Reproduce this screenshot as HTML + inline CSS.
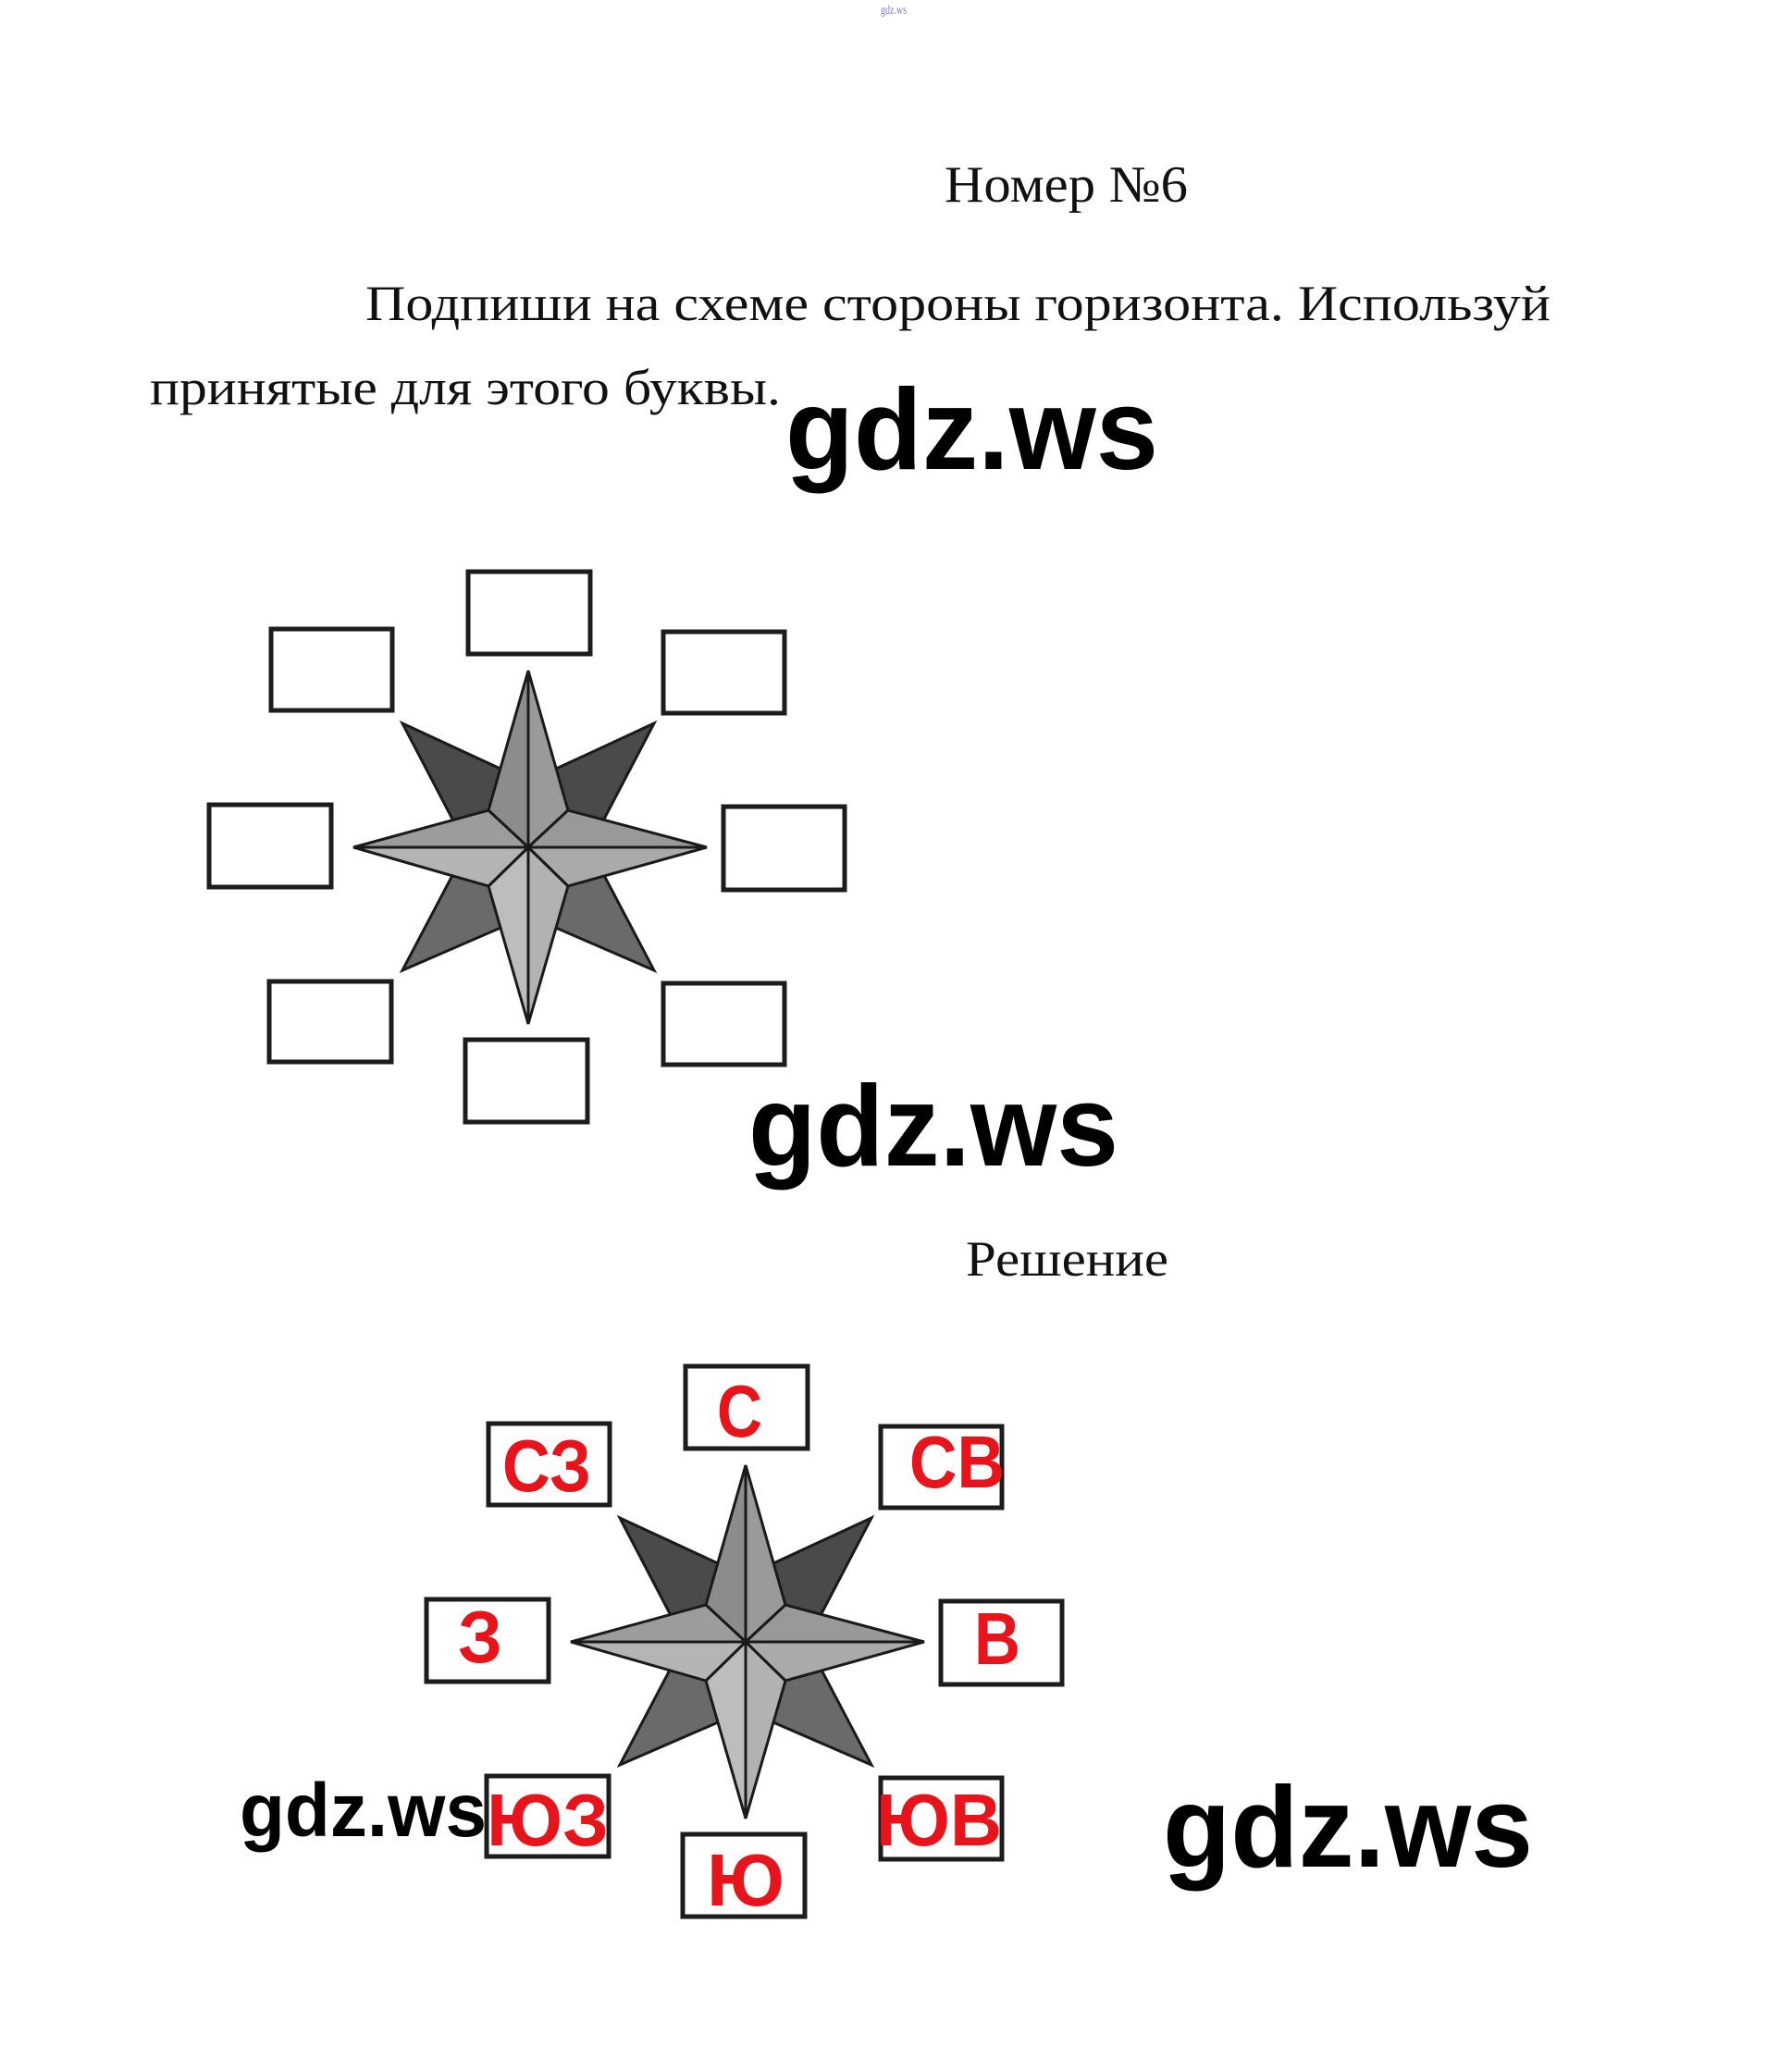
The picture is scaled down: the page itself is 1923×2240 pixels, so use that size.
<!DOCTYPE html>
<html><head><meta charset="utf-8"><style>html,body{margin:0;padding:0;background:#fff}svg{display:block}</style></head>
<body>
<svg width="1923" height="2240" viewBox="0 0 1923 2240" xmlns="http://www.w3.org/2000/svg">
<defs>
<g id="rose">
  <g stroke="#1a1a1a" stroke-width="3" stroke-linejoin="miter">
    <polygon points="435,782 571,845 571,916 505,916" fill="#4a4a4a"/>
    <polygon points="707,782 637,916 571,916 571,845" fill="#4a4a4a"/>
    <polygon points="435,1049 505,916 571,916 571,990" fill="#6a6a6a"/>
    <polygon points="707,1049 571,990 571,916 637,916" fill="#6a6a6a"/>
    <polygon points="571,725 528,876 571,916" fill="#8c8c8c"/>
    <polygon points="571,725 571,916 614,876" fill="#9a9a9a"/>
    <polygon points="764,916 614,876 571,916" fill="#999"/>
    <polygon points="764,916 571,916 614,958" fill="#aaa"/>
    <polygon points="571,1107 614,958 571,916" fill="#b2b2b2"/>
    <polygon points="571,1107 571,916 528,958" fill="#bdbdbd"/>
    <polygon points="382,916 528,958 571,916" fill="#b4b4b4"/>
    <polygon points="382,916 571,916 528,876" fill="#9c9c9c"/>
  </g>
  <g fill="none" stroke="#1c1c1c" stroke-width="5">
    <rect x="293" y="680" width="131" height="88"/>
    <rect x="506" y="618" width="132" height="89"/>
    <rect x="717" y="683" width="131" height="88"/>
    <rect x="226" y="870" width="132" height="89"/>
    <rect x="782" y="872" width="131" height="90"/>
    <rect x="291" y="1061" width="132" height="87"/>
    <rect x="503" y="1124" width="132" height="89"/>
    <rect x="717" y="1063" width="131" height="88"/>
  </g>
</g>
</defs>

<text x="952" y="15" font-family="Liberation Serif, serif" font-size="14" fill="#7a7ad8" textLength="28" lengthAdjust="spacingAndGlyphs">gdz.ws</text>

<g font-family="Liberation Serif, serif" fill="#111">
<text x="1021" y="218" font-size="56" textLength="263" lengthAdjust="spacingAndGlyphs">Номер №6</text>
<text x="395" y="346" font-size="54" textLength="1281" lengthAdjust="spacingAndGlyphs">Подпиши на схеме стороны горизонта. Используй</text>
<text x="162" y="437" font-size="54" textLength="682" lengthAdjust="spacingAndGlyphs">принятые для этого буквы.</text>
<text x="1044" y="1379" font-size="54" textLength="219" lengthAdjust="spacingAndGlyphs">Решение</text>
</g>

<use href="#rose"/>
<use href="#rose" transform="translate(235,859)"/>

<g font-family="Liberation Sans, sans-serif" font-weight="bold" font-size="80" fill="#e8141c">
<text x="775" y="1553" textLength="49" lengthAdjust="spacingAndGlyphs">С</text>
<text x="543" y="1612" textLength="96" lengthAdjust="spacingAndGlyphs">СЗ</text>
<text x="983" y="1608" textLength="103" lengthAdjust="spacingAndGlyphs">СВ</text>
<text x="495" y="1797" textLength="48" lengthAdjust="spacingAndGlyphs">З</text>
<text x="1053" y="1799" textLength="50" lengthAdjust="spacingAndGlyphs">В</text>
<text x="526" y="1995" textLength="132" lengthAdjust="spacingAndGlyphs">ЮЗ</text>
<text x="947" y="1995" textLength="136" lengthAdjust="spacingAndGlyphs">ЮВ</text>
<text x="764" y="2060" textLength="84" lengthAdjust="spacingAndGlyphs">Ю</text>
</g>

<g font-family="Liberation Sans, sans-serif" font-weight="bold" fill="#000">
<text x="849" y="507" font-size="124" textLength="403" lengthAdjust="spacingAndGlyphs">gdz.ws</text>
<text x="809" y="1260" font-size="124" textLength="400" lengthAdjust="spacingAndGlyphs">gdz.ws</text>
<text x="259" y="1985" font-size="82" textLength="267" lengthAdjust="spacingAndGlyphs">gdz.ws</text>
<text x="1257" y="2018" font-size="124" textLength="400" lengthAdjust="spacingAndGlyphs">gdz.ws</text>
</g>
</svg>
</body></html>
